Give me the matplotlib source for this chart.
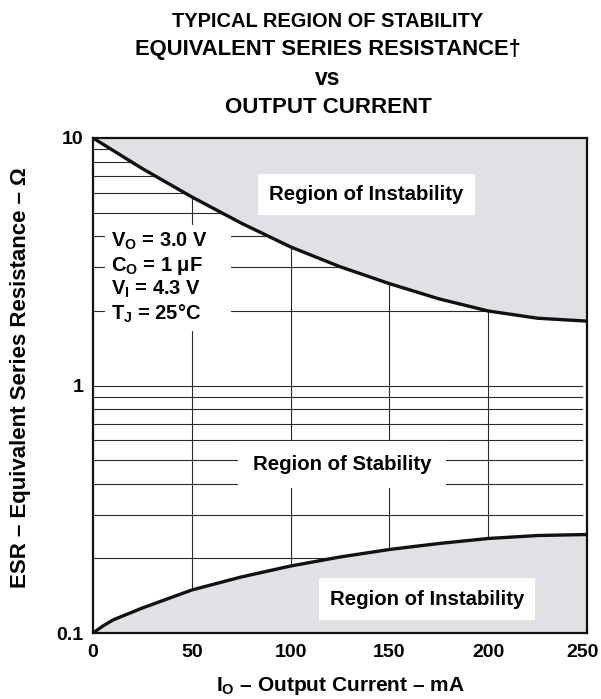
import numpy as np
import matplotlib
matplotlib.use("Agg")
from matplotlib import pyplot as plt
from matplotlib.transforms import ScaledTranslation

plt.rcParams['font.family'] = ['Liberation Sans', 'DejaVu Sans']
plt.rcParams['font.weight'] = 'bold'
plt.rcParams['mathtext.fontset'] = 'custom'
plt.rcParams['mathtext.rm'] = 'Liberation Sans:bold'
plt.rcParams['mathtext.bf'] = 'Liberation Sans:bold'
plt.rcParams['mathtext.it'] = 'Liberation Sans:bold'

# boundary of the stable region, ESR (ohm) vs output current (mA)
upper_current = [0, 25, 50, 75, 100, 125, 150, 175, 200, 225, 250]
upper_esr = [10.0, 7.52, 5.78, 4.53, 3.63, 3.02, 2.58, 2.24, 2.00, 1.87, 1.82]

lower_current = [0, 5, 10, 25, 50, 75, 100, 125, 150, 175, 200, 225, 250]
lower_esr = [0.100, 0.1067, 0.1128, 0.1262, 0.1492, 0.1684, 0.1865, 0.2028,
             0.2175, 0.2299, 0.2409, 0.2477, 0.2500]

x_ticks = [0, 50, 100, 150, 200, 250]
y_ticks = [0.1, 1, 10]
y_tick_labels = ['0.1', '1', '10']

conditions = [r'V$_\mathrm{O}$ = 3.0 V    ',
              r'C$_\mathrm{O}$ = 1 μF',
              r'V$_\mathrm{I}$ = 4.3 V',
              r'T$_\mathrm{J}$ = 25°C']

title_lines = ['TYPICAL REGION OF STABILITY', 'EQUIVALENT SERIES RESISTANCE†',
               'vs', 'OUTPUT CURRENT']
title_sizes = [14.4, 15.8, 16.5, 16]
title_baselines = [26.7, 55, 85, 113.3]   # px from top

fill_color = '#e0e1e4'
grid_color = '#2a2a2a'

W, H = 601, 699
fig = plt.figure(figsize=(W / 100, H / 100), dpi=100)
ax = fig.add_axes([93 / W, 1 - 633 / H, 494 / W, 495 / H])

ax.set_yscale('log')
ax.set_xlim(0, 250)
ax.set_ylim(0.1, 10)

# grid: every log minor step horizontally, every 50 mA vertically
grid_vals = [m * 10.0 ** d for d in (-1, 0) for m in range(2, 10)] + [1]
for g in grid_vals:
    ax.axhline(g, xmin=0, xmax=0.99, color=grid_color, lw=0.8, zorder=1)
for xv in x_ticks[1:-1]:
    ax.axvline(xv, color=grid_color, lw=0.8, zorder=1)

# unstable regions
ax.fill_between(upper_current, upper_esr, 10, color=fill_color, lw=0, zorder=2)
ax.fill_between(lower_current, 0.1, lower_esr, color=fill_color, lw=0, zorder=2)
for xs, ys in ((upper_current, upper_esr), (lower_current, lower_esr)):
    ax.plot(xs, ys, color='#111111', lw=2.4, zorder=4,
            solid_joinstyle='round', solid_capstyle='butt')

box = dict(boxstyle='square,pad=0.55', fc='white', ec='none')
ax.text(138.5, 5.9, 'Region of Instability', fontsize=14.7, ha='center',
        va='center', bbox=box, zorder=5)
ax.text(126, 0.48, 'Region of Stability', fontsize=14.7, ha='center',
        va='center', bbox=dict(boxstyle='square,pad=0.7', fc='white', ec='none'),
        zorder=5)
ax.text(169, 0.137, 'Region of Instability', fontsize=14.7, ha='center',
        va='center', bbox=box, zorder=5)

ax.text(9, 2.72, '\n'.join(conditions), fontsize=14.5, ha='left', va='center',
        linespacing=1.15,
        bbox=dict(boxstyle='square,pad=0.3', fc='white', ec='none'), zorder=5)

ax.set_xticks(x_ticks)
ax.set_xticklabels([str(v) for v in x_ticks])
ax.set_yticks(y_ticks)
ax.set_yticklabels(y_tick_labels)
ax.minorticks_off()
ax.tick_params(length=0, labelsize=14)
ax.tick_params(axis='x', pad=8)
ax.tick_params(axis='y', pad=7)

# keep the last current label inside the figure
last = ax.get_xticklabels()[-1]
last.set_transform(last.get_transform() +
                   ScaledTranslation(-4 / 100, 0, fig.dpi_scale_trans))

for s in ax.spines.values():
    s.set_linewidth(1.6)
    s.set_color('#111111')
    s.set_zorder(6)

ax.set_xlabel(r'I$_\mathrm{O}$ – Output Current – mA', fontsize=15,
              fontweight='bold', labelpad=10)
ax.set_ylabel('ESR – Equivalent Series Resistance – Ω', fontsize=16,
              fontweight='bold')
ax.yaxis.set_label_coords(-0.125, 0.515)

# four-line heading, centred over the plot
for line, size, base in zip(title_lines, title_sizes, title_baselines):
    fig.text(328 / W, 1 - base / H, line, fontsize=size, ha='center',
             va='baseline')

fig.savefig('out.png', dpi=100)
